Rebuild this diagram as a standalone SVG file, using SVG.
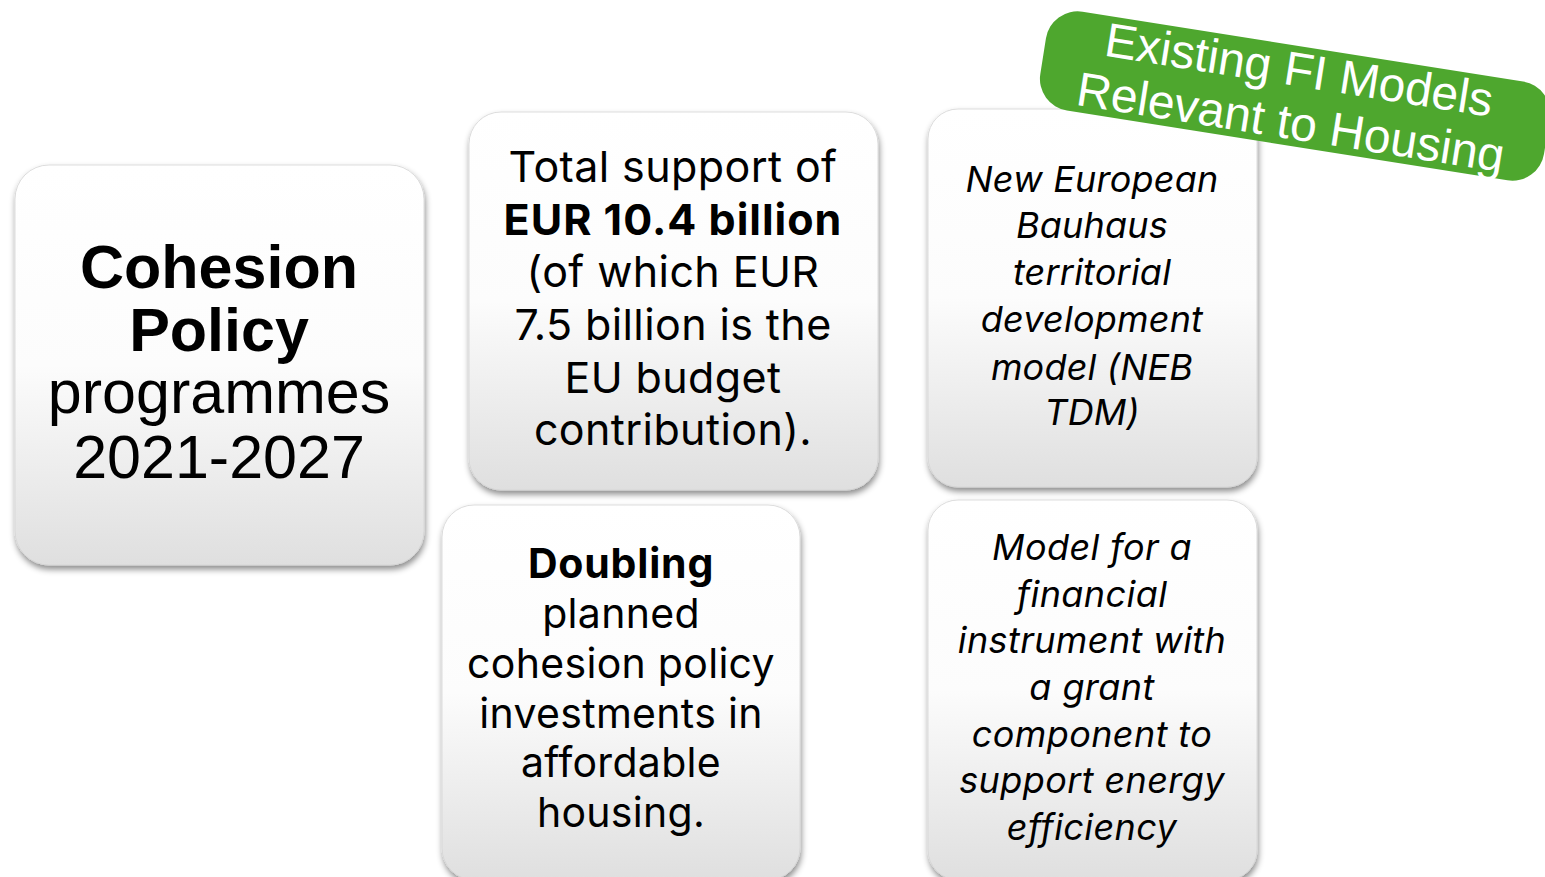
<svg xmlns="http://www.w3.org/2000/svg" width="1545" height="877" viewBox="0 0 1545 877">
<defs>
<linearGradient id="boxGrad" x1="0" y1="0" x2="0" y2="1">
<stop offset="0" stop-color="#ffffff"/>
<stop offset="0.5" stop-color="#fcfcfc"/>
<stop offset="1" stop-color="#dfdfdf"/>
</linearGradient>
<filter id="shadow" x="-10%" y="-10%" width="125%" height="125%">
<feDropShadow dx="1" dy="4" stdDeviation="3" flood-color="#000" flood-opacity="0.45"/>
</filter>
</defs>
<style>
.box{fill:url(#boxGrad);stroke:#d4d4d4;stroke-width:0.8;filter:url(#shadow)}
.arial{font-family:"Liberation Sans",Arial,sans-serif;fill:#000;text-anchor:middle}
.apt{font-family:Inter,"Noto Sans",sans-serif;fill:#000;text-anchor:middle}
.b{font-weight:bold}
.i{font-style:italic}
.banner{font-family:"Liberation Sans",Arial,sans-serif;fill:#fff;text-anchor:middle;font-size:48px}
</style>
<rect width="1545" height="877" fill="#fff"/>
<g id="connectors"></g>
<g id="node-cohesion">
<rect class="box" x="15" y="165" width="409" height="400" rx="34"/>
<text class="arial" font-size="61"><tspan class="b" x="219" y="288">Cohesion</tspan><tspan class="b" x="219" y="351">Policy</tspan><tspan x="219" y="413">programmes</tspan><tspan x="219" y="478">2021-2027</tspan></text>
</g>
<g id="node-total">
<rect class="box" x="469" y="112" width="409" height="378" rx="32"/>
<text class="apt" font-size="43" letter-spacing="0.4"><tspan x="673" y="182">Total support of</tspan><tspan class="b" x="673" y="235" letter-spacing="1">EUR 10.4 billion</tspan><tspan x="673" y="287">(of which EUR</tspan><tspan x="673" y="340">7.5 billion is the</tspan><tspan x="673" y="393">EU budget</tspan><tspan x="673" y="445">contribution).</tspan></text>
</g>
<g id="node-doubling">
<rect class="box" x="442" y="505" width="358" height="375" rx="32"/>
<text class="apt" font-size="41" letter-spacing="0.3"><tspan class="b" x="621" y="578" letter-spacing="0.8">Doubling</tspan><tspan x="621" y="628">planned</tspan><tspan x="621" y="678">cohesion policy</tspan><tspan x="621" y="728">investments in</tspan><tspan x="621" y="777">affordable</tspan><tspan x="621" y="827">housing.</tspan></text>
</g>
<g id="node-neb">
<rect class="box" x="928" y="109" width="329" height="378" rx="30"/>
<text class="apt i" font-size="36" letter-spacing="0.2"><tspan x="1092" y="192">New European</tspan><tspan x="1092" y="238">Bauhaus</tspan><tspan x="1092" y="285">territorial</tspan><tspan x="1092" y="332">development</tspan><tspan x="1092" y="380">model (NEB</tspan><tspan x="1092" y="425">TDM)</tspan></text>
</g>
<g id="node-model">
<rect class="box" x="928" y="500" width="329" height="380" rx="30"/>
<text class="apt i" font-size="36" letter-spacing="0.4"><tspan x="1092" y="560">Model for a</tspan><tspan x="1092" y="607">financial</tspan><tspan x="1092" y="653">instrument with</tspan><tspan x="1092" y="700">a grant</tspan><tspan x="1092" y="747">component to</tspan><tspan x="1092" y="793">support energy</tspan><tspan x="1092" y="840">efficiency</tspan></text>
</g>
<g id="node-banner" transform="rotate(9 1295 96)">
<rect x="1040" y="46" width="510" height="100" rx="32" fill="#4ea72e"/>
<text class="banner"><tspan x="1295" y="86">Existing FI Models</tspan><tspan x="1295" y="139">Relevant to Housing</tspan></text>
</g>
</svg>
